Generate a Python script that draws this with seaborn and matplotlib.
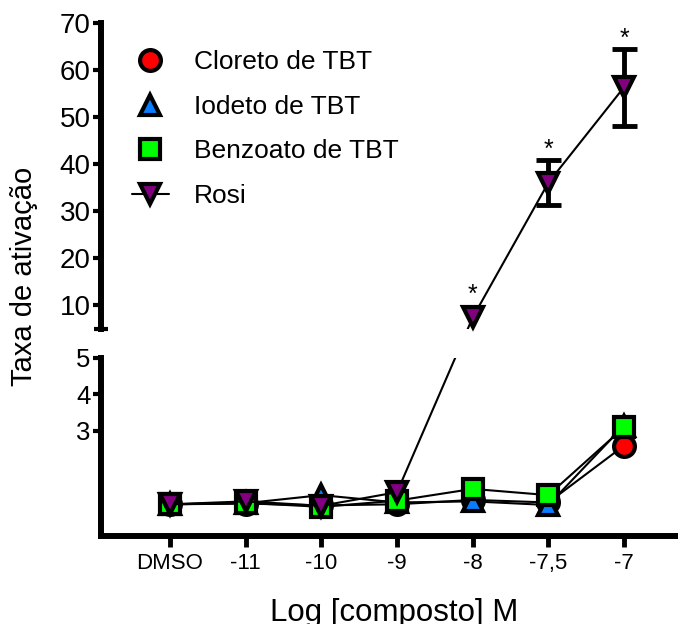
import matplotlib
matplotlib.use("Agg")
import matplotlib.pyplot as plt
import seaborn as sns
import numpy as np
from matplotlib.lines import Line2D

# ---------------- data ----------------
categories = ["DMSO", "-11", "-10", "-9", "-8", "-7,5", "-7"]
cloreto = [1.00, 1.02, 0.97, 1.00, 1.12, 1.05, 2.60]
iodeto = [1.00, 1.03, 1.25, 1.05, 1.08, 0.98, 3.15]
benzoato = [1.00, 1.04, 0.93, 1.10, 1.42, 1.25, 3.10]
rosi = [1.00, 1.08, 0.96, 1.33, 7.34, 36.0, 56.3]
rosi_err = [0.0, 0.0, 0.0, 0.0, 0.0, 4.85, 8.2]
significant = [False, False, False, False, True, True, True]
series_names = ["Cloreto de TBT", "Iodeto de TBT", "Benzoato de TBT", "Rosi"]
upper_ticks = [10, 20, 30, 40, 50, 60, 70]
lower_ticks = [3, 4, 5]

# ---------------- style ----------------
sns.set_theme(style="ticks")
plt.rcParams["font.family"] = ["Liberation Sans", "DejaVu Sans"]
plt.rcParams["text.color"] = "black"

W, H = 678, 624
fig = plt.figure(figsize=(W / 100, H / 100), dpi=100)

upper_lim = (4.83, 70)
lower_lim = (0.135, 5)
xlim = (-0.912, 6.713)

ax_up = fig.add_axes([101 / W, 1 - 329.3 / H, 1 - 101 / W, (329.3 - 22.7) / H])
ax_lo = fig.add_axes([101 / W, 1 - 536 / H, 1 - 101 / W, (536 - 357.7) / H])
for ax in (ax_up, ax_lo):
    ax.set_xlim(*xlim)
ax_up.set_ylim(*upper_lim)
ax_lo.set_ylim(*lower_lim)

x = np.arange(len(categories))
styles = [
    dict(marker="o", fc="#ff0000"),
    dict(marker="^", fc="#0a7cff"),
    dict(marker="s", fc="#00ff00"),
    dict(marker="v", fc="#800080"),
]
data = [cloreto, iodeto, benzoato, rosi]
MS, MEW = 15, 3


# map a value through the broken axis: display position from the axis segment
# it belongs to, expressed in the data units of the target axis
def to_axis(vals, target):
    out = []
    for xi, v in zip(x, vals):
        src = ax_up if v > lower_lim[1] else ax_lo
        yd = src.transData.transform((xi, v))[1]
        out.append(target.transData.inverted().transform((0, yd))[1])
    return out


# lower axis: all series
for k, (vals, st) in enumerate(zip(data, styles)):
    sns.lineplot(x=x, y=to_axis(vals, ax_lo), ax=ax_lo, color="black", linewidth=1.5,
                 marker=st["marker"], markersize=MS, markerfacecolor=st["fc"],
                 markeredgecolor="black", markeredgewidth=MEW,
                 estimator=None, sort=False, legend=False, zorder=3 + k)

# upper axis: Rosi line (clipped), markers for visible points
sns.lineplot(x=x, y=to_axis(rosi, ax_up), ax=ax_up, color="black", linewidth=1.5,
             estimator=None, sort=False, legend=False, zorder=3)
vis = [i for i, v in enumerate(rosi) if v > upper_lim[0]]
eb = [i for i in vis if rosi_err[i] > 0]
ax_up.errorbar([x[i] for i in eb], [rosi[i] for i in eb],
               yerr=[rosi_err[i] for i in eb], fmt="none", ecolor="black",
               elinewidth=3.5, capsize=9, capthick=3.5, zorder=4)
ax_up.plot([x[i] for i in vis], [rosi[i] for i in vis], linestyle="none",
           marker="v", markersize=MS, markerfacecolor="#800080",
           markeredgecolor="black", markeredgewidth=MEW, zorder=5, clip_on=False)

pt_per_px = 72 / fig.dpi
half_marker_pt = MS / 2 + MEW / 2
for i in range(len(categories)):
    if significant[i]:
        y0 = ax_up.transData.transform((x[i], rosi[i]))[1]
        y1 = ax_up.transData.transform((x[i], rosi[i] + rosi_err[i]))[1]
        err_pt = (y1 - y0) * pt_per_px
        extra = max(0.0, half_marker_pt - err_pt)
        ax_up.annotate("*", xy=(x[i], rosi[i] + rosi_err[i]), xytext=(0, 2 + extra),
                       textcoords="offset points", ha="center", va="baseline",
                       fontsize=18, color="black")

# ---------------- axes formatting ----------------
for ax in (ax_up, ax_lo):
    ax.set_facecolor("none")
    for s in ("top", "right"):
        ax.spines[s].set_visible(False)
    for s in ("left", "bottom"):
        ax.spines[s].set_linewidth(4.3)
        ax.spines[s].set_color("black")
    ax.set_xlabel("")
    ax.set_ylabel("")

ax_up.spines["bottom"].set_visible(False)
ax_up.set_xticks([])
ax_up.set_yticks(upper_ticks)
ax_up.set_yticks([upper_lim[0]], minor=True)
ax_up.tick_params(axis="y", which="major", length=5.5, width=3, labelsize=20,
                  pad=2, colors="black")
ax_up.tick_params(axis="y", which="minor", direction="inout", length=9.5, width=3,
                  colors="black")

ax_lo.set_yticks(lower_ticks)
ax_lo.set_yticks([5], minor=True)
ax_lo.set_xticks(x)
ax_lo.set_xticklabels(categories)
ax_lo.tick_params(axis="y", which="major", length=5.5, width=3, labelsize=18.5,
                  pad=2, colors="black")
ax_lo.tick_params(axis="y", which="minor", direction="inout", length=10, width=3,
                  colors="black")
ax_lo.tick_params(axis="x", length=8, width=3.5, labelsize=16, pad=4,
                  colors="black")

# ---------------- legend ----------------
handles = []
for name, st in zip(series_names, styles):
    ls = "-" if name == "Rosi" else "none"
    handles.append(Line2D([0], [0], color="black", linewidth=1.5, linestyle=ls,
                          marker=st["marker"], markersize=MS,
                          markerfacecolor=st["fc"], markeredgecolor="black",
                          markeredgewidth=MEW))
leg = ax_up.legend(handles, series_names, loc="upper left",
                   bbox_to_anchor=(0.053, 0.91), frameon=False, fontsize=19,
                   handlelength=1.4, handletextpad=0.95, labelspacing=0.78,
                   borderpad=0, borderaxespad=0, labelcolor="black")

# ---------------- axis labels ----------------
fig.text(24.5 / W, 1 - 276.5 / H, "Taxa de ativação", rotation=90, ha="center",
         va="center", fontsize=21, color="black")
fig.text(394 / W, 1 - 620.5 / H, "Log [composto] M", ha="center",
         va="baseline", fontsize=22.5, color="black")

fig.savefig("out.png", dpi=100)
